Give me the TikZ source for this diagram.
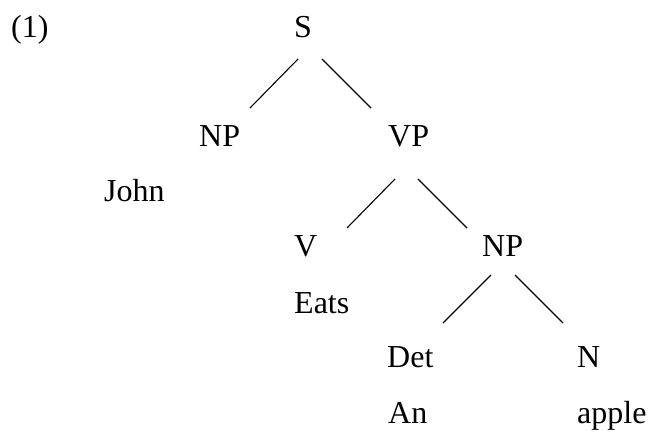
\documentclass[tikz,border=0pt]{standalone}
\usepackage{fontspec}
\setmainfont{Liberation Serif}
\begin{document}
\begin{tikzpicture}[x=1pt,y=-1pt,
  lbl/.style={anchor=base west,inner sep=0pt,font=\fontsize{32}{38}\selectfont},
  branch/.style={line width=1.1pt}]
\useasboundingbox (0,0) rectangle (651,432);
% example number
\node[lbl] (num) at (11,37) {(1)};
% category labels
\node[lbl] (S)   at (294,37)  {S};
\node[lbl] (NP1) at (199,146) {NP};
\node[lbl] (VP)  at (388,146) {VP};
\node[lbl] (John) at (104,201) {John};
\node[lbl] (V)   at (294,256) {V};
\node[lbl] (NP2) at (482,256) {NP};
\node[lbl] (Eats) at (294,313) {Eats};
\node[lbl] (Det) at (387,367) {Det};
\node[lbl] (N)   at (577,367) {N};
\node[lbl] (An)  at (388,423) {An};
\node[lbl] (apple) at (577,423) {apple};
% branch end points
\coordinate (s1) at (298,59);  \coordinate (np1) at (250,108);
\coordinate (s2) at (322,59);  \coordinate (vp1) at (371,108);
\coordinate (vp2) at (395,179); \coordinate (v1) at (347,228);
\coordinate (vp3) at (418,179); \coordinate (np2) at (467,228);
\coordinate (np3) at (491,275); \coordinate (det1) at (443,323);
\coordinate (np4) at (515,275); \coordinate (n1) at (563,323);
% branches
\draw[branch] (s1) -- (np1);
\draw[branch] (s2) -- (vp1);
\draw[branch] (vp2) -- (v1);
\draw[branch] (vp3) -- (np2);
\draw[branch] (np3) -- (det1);
\draw[branch] (np4) -- (n1);
\end{tikzpicture}
\end{document}
